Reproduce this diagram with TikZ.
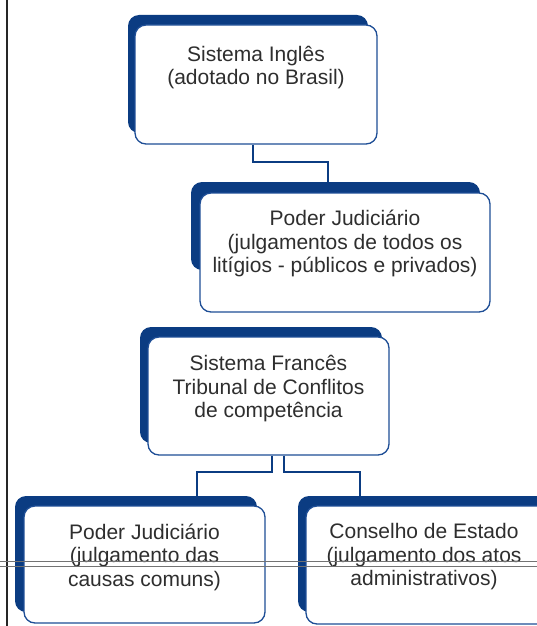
\documentclass[tikz,border=0pt]{standalone}
\usepackage{fontspec}
\setmainfont{Liberation Sans}
\definecolor{shblue}{HTML}{0B3C82}
\definecolor{bdblue}{HTML}{1E4E96}
\definecolor{txtgray}{HTML}{2E2E2E}
\begin{document}
\begin{tikzpicture}[x=1pt,y=-1pt,
  shadowbox/.style={fill=shblue, rounded corners=11pt},
  whitebox/.style={draw=bdblue, line width=1.3pt, fill=white, rounded corners=11pt, inner sep=0pt},
  txt/.style={text=txtgray, align=center, font=\fontsize{21pt}{23.5pt}\selectfont, inner sep=0pt},
  conn/.style={draw=shblue, line width=2pt},
  rule/.style={draw=black!85, line width=2pt},
  grayrule/.style={draw=black!55, line width=1pt}]
\useasboundingbox (0,0) rectangle (537,626);
% shadows
\fill[shadowbox] (128,15) rectangle (368,133);
\fill[shadowbox] (191,182) rectangle (480,270);
\fill[shadowbox] (140,327) rectangle (382,443);
\fill[shadowbox] (15,496) rectangle (257,612);
\fill[shadowbox] (298,496) rectangle (580,612);
% boxes
\node[whitebox, minimum width=242pt, minimum height=119pt] (b1) at (256,84.5) {};
\node[whitebox, minimum width=290pt, minimum height=119pt] (b2) at (345,252.5) {};
\node[whitebox, minimum width=241pt, minimum height=118pt] (b3) at (268.5,396) {};
\node[whitebox, minimum width=241pt, minimum height=117pt] (b4) at (144.5,564.5) {};
\node[whitebox, minimum width=264pt, minimum height=118pt] (b5) at (438,565) {};
% texts
\node[txt] (t1) at (256,67.5) {Sistema Inglês\\(adotado no Brasil)};
\node[txt] (t2) at (345,243.5) {Poder Judiciário\\(julgamentos de todos os\\litígios - públicos e privados)};
\node[txt] (t3) at (268.5,389) {Sistema Francês\\Tribunal de Conflitos\\de competência};
\node[txt] (t4) at (144.5,557) {Poder Judiciário\\(julgamento das\\causas comuns)};
\node[txt] (t5) at (424,557) {Conselho de Estado\\(julgamento dos atos\\administrativos)};
% connectors
\coordinate (k1) at (253,162);
\coordinate (k2) at (328,162);
\draw[conn] (b1.south -| k1) -- (k1) -- (k2) -- (b2.north -| k2);
\coordinate (k3) at (272,472);
\coordinate (k4) at (197,472);
\coordinate (k5) at (284,472);
\coordinate (k6) at (360,472);
\draw[conn] (b3.south -| k3) -- (k3) -- (k4) -- (k4 |- b4.north);
\draw[conn] (b3.south -| k5) -- (k5) -- (k6) -- (k6 |- b5.north);
% page rules
\coordinate (r1) at (7,0);
\coordinate (r2) at (7,626);
\draw[rule] (r1) -- (r2);
\coordinate (g1) at (0,561);
\coordinate (g2) at (537,561);
\coordinate (g3) at (0,566.5);
\coordinate (g4) at (537,566.5);
\draw[grayrule] (g1) -- (g2);
\draw[grayrule] (g3) -- (g4);
\end{tikzpicture}
\end{document}
